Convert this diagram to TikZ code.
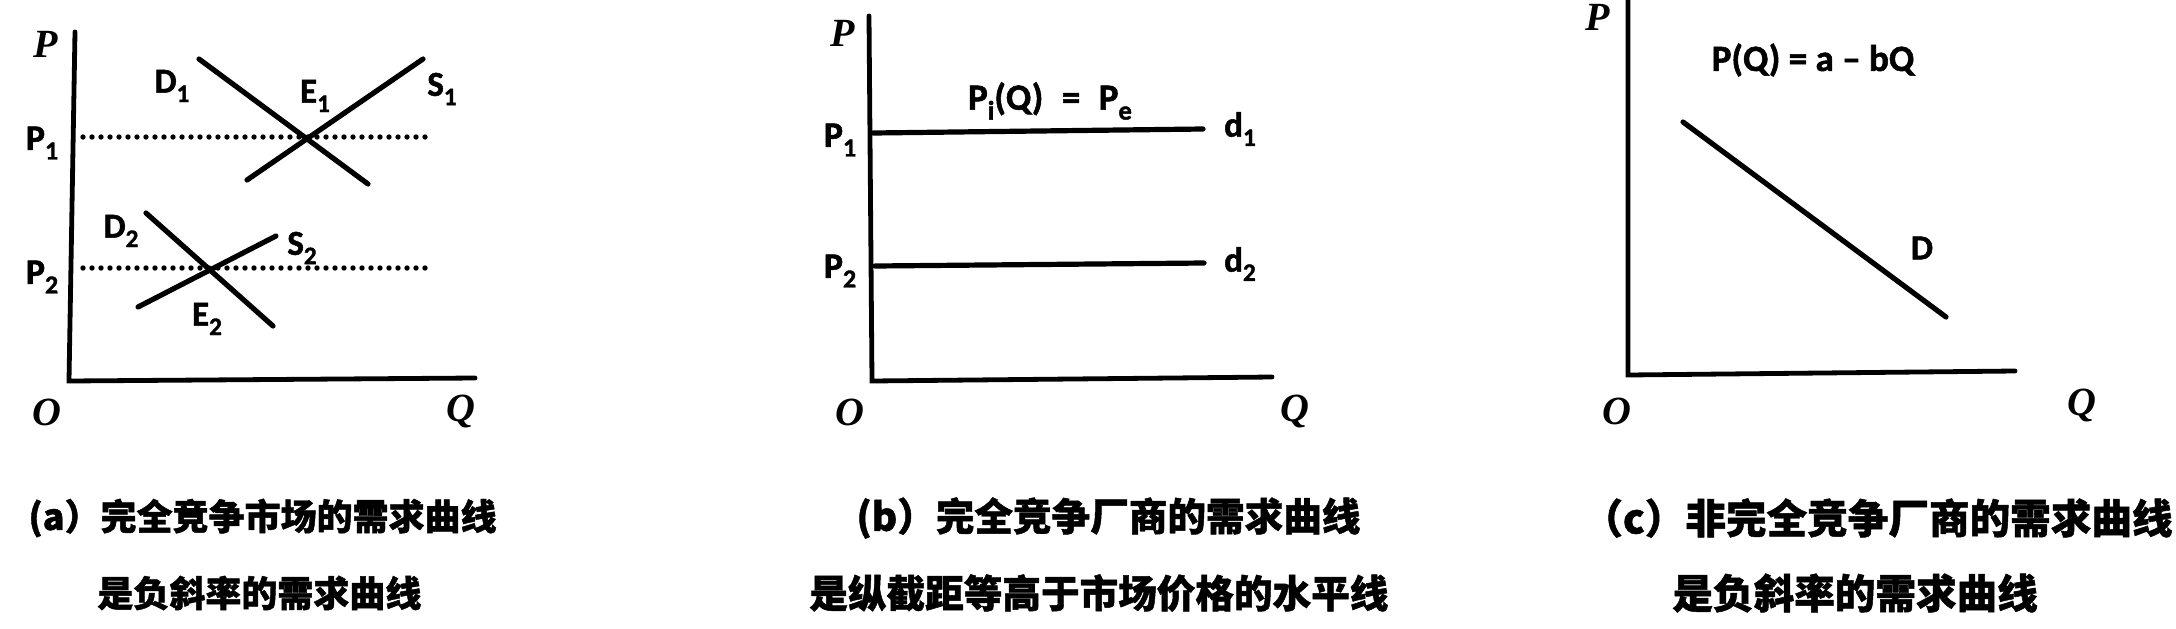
\documentclass[tikz,border=0pt]{standalone}
\usepackage{fontspec}
\setmainfont{Liberation Serif}
\newfontfamily\lbl{Carlito}[BoldFeatures={FakeBold=1.5}]
\newfontfamily\cjk{Noto Sans CJK SC}[BoldFeatures={FakeBold=1.2}]
\newcommand\mysub[1]{\raisebox{-0.55ex}{\scalebox{0.72}{#1}}}
\begin{document}
\begin{tikzpicture}[x=0.5pt,y=-0.5pt,
  axis/.style={line width=2.4pt, line cap=round},
  curve/.style={line width=2.6pt, line cap=round},
  dots/.style={line width=2.7pt, line cap=round, dash pattern=on 0pt off 4.5pt},
  axlab/.style={font=\fontsize{20}{20}\selectfont\bfseries\itshape, inner sep=0pt},
  lab/.style={font=\lbl\fontsize{17.5}{17.5}\selectfont\bfseries, inner sep=0pt},
  plab/.style={font=\lbl\fontsize{18}{18}\selectfont\bfseries, inner sep=0pt},
  eqlab/.style={font=\lbl\fontsize{18.5}{18.5}\selectfont\bfseries, inner sep=0pt},
  captxt/.style={font=\cjk\bfseries, inner sep=0pt, anchor=west}
]
\path[use as bounding box] (0,0) rectangle (2176,628);

% ---------- panel (a) ----------
\coordinate (aYt) at (75,32);
\coordinate (aO) at (69,381);
\coordinate (aXr) at (475,378);
\draw[axis] (aYt) -- (aO) -- (aXr);
\node[axlab] (aP) at (46,44) {P};
\node[axlab] (aOl) at (47,412) {O};
\node[axlab] (aQ) at (461,411) {Q};
\node[plab] (aP1) at (42,143) {P\mysub{1}};
\node[plab] (aP2) at (42,277) {P\mysub{2}};
\coordinate (p1a) at (83,137); \coordinate (p1b) at (433,137);
\coordinate (p2a) at (83,268); \coordinate (p2b) at (432,268);
\draw[dots] (p1a) -- (p1b);
\draw[dots] (p2a) -- (p2b);
\coordinate (d1a) at (199,59); \coordinate (d1b) at (368,184);
\coordinate (s1a) at (247,180); \coordinate (s1b) at (423,59);
\coordinate (d2a) at (146,213); \coordinate (d2b) at (273,326);
\coordinate (s2a) at (138,307); \coordinate (s2b) at (276,236);
\draw[curve] (d1a) -- (d1b);
\draw[curve] (s1a) -- (s1b);
\draw[curve] (d2a) -- (d2b);
\draw[curve] (s2a) -- (s2b);
\node[lab] (D1) at (172,86) {D\mysub{1}};
\node[lab] (E1) at (315,96) {E\mysub{1}};
\node[lab] (S1) at (442,89) {S\mysub{1}};
\node[lab] (D2) at (121,231) {D\mysub{2}};
\node[lab] (S2) at (302,248) {S\mysub{2}};
\node[lab] (E2) at (207,319) {E\mysub{2}};

% ---------- panel (b) ----------
\coordinate (bYt) at (869,16);
\coordinate (bO) at (872,381);
\coordinate (bXr) at (1272,377);
\draw[axis] (bYt) -- (bO) -- (bXr);
\node[axlab] (bP) at (843,33) {P};
\node[axlab] (bOl) at (850,412) {O};
\node[axlab] (bQ) at (1295,411) {Q};
\node[plab] (bP1) at (840,140) {P\mysub{1}};
\node[plab] (bP2) at (840,271) {P\mysub{2}};
\coordinate (dd1a) at (873,133); \coordinate (dd1b) at (1203,129);
\coordinate (dd2a) at (875,266); \coordinate (dd2b) at (1204,263);
\draw[curve] (dd1a) -- (dd1b);
\draw[curve] (dd2a) -- (dd2b);
\node[lab] (bd1) at (1240,129) {d\mysub{1}};
\node[lab] (bd2) at (1240,264) {d\mysub{2}};
\node[eqlab] (beq) at (1050,101) {P\mysub{i}(Q)\enspace=\enspace P\mysub{e}};

% ---------- panel (c) ----------
\coordinate (cYt) at (1628,0);
\coordinate (cO) at (1628,375);
\coordinate (cXr) at (2015,371);
\draw[axis] (cYt) -- (cO) -- (cXr);
\node[axlab] (cP) at (1598,17) {P};
\node[axlab] (cOl) at (1617,411) {O};
\node[axlab] (cQ) at (2082,405) {Q};
\coordinate (cda) at (1683,122); \coordinate (cdb) at (1946,317);
\draw[curve] (cda) -- (cdb);
\node[lab] (cD) at (1922,248) {D};
\node[eqlab] (ceq) at (1813,60) {P(Q) = a \textendash{} bQ};

% ---------- captions ----------
\node[captxt, font=\cjk\bfseries\fontsize{18}{18}\selectfont] (capa1) at (28,518) {(a）完全竞争市场的需求曲线};
\node[captxt, font=\cjk\bfseries\fontsize{18}{18}\selectfont] (capa2) at (97,593) {是负斜率的需求曲线};
\node[captxt, font=\cjk\bfseries\fontsize{19.3}{19.3}\selectfont] (capb1) at (856,518) {(b）完全竞争厂商的需求曲线};
\node[captxt, font=\cjk\bfseries\fontsize{19.3}{19.3}\selectfont] (capb2) at (809,593) {是纵截距等高于市场价格的水平线};
\node[captxt, font=\cjk\bfseries\fontsize{20.3}{20.3}\selectfont] (capc1) at (1582,518) {（c）非完全竞争厂商的需求曲线};
\node[captxt, font=\cjk\bfseries\fontsize{20.3}{20.3}\selectfont] (capc2) at (1672,593) {是负斜率的需求曲线};
\end{tikzpicture}
\end{document}
